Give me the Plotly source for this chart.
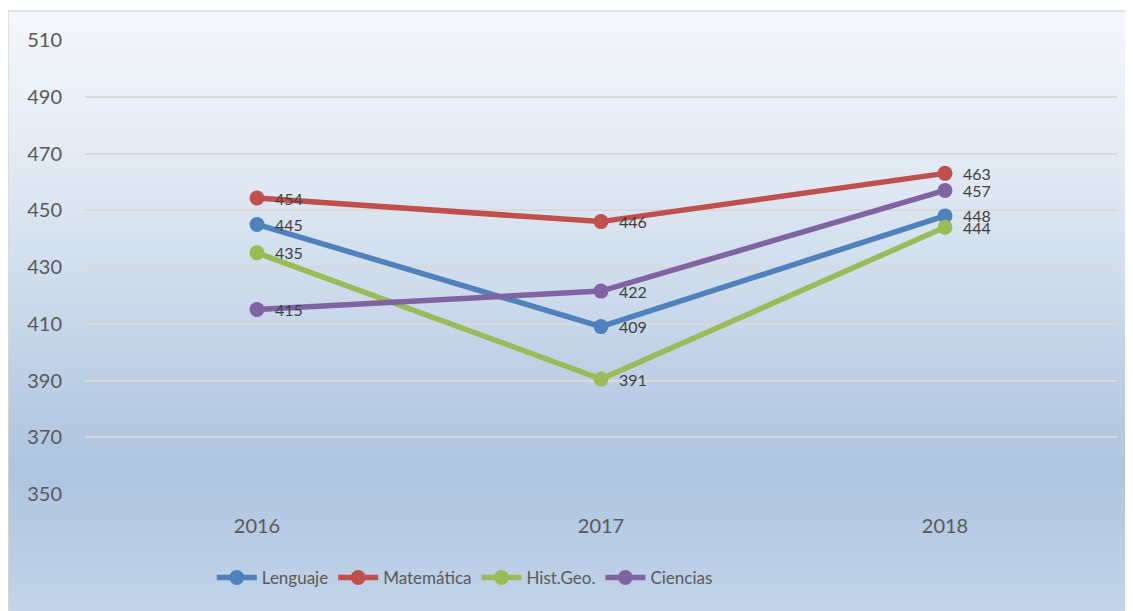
import base64, struct, zlib
import plotly.graph_objects as go

years = ["2016", "2017", "2018"]
lenguaje = [445, 409, 448]
matematica = [454.3, 446, 463]
histgeo = [435, 390.5, 444]
ciencias = [415, 421.5, 457]
series_names = ["Lenguaje", "Matemática", "Hist.Geo.", "Ciencias"]
label_text = {
    "Lenguaje": ["445", "409", "448"],
    "Matemática": ["454", "446", "463"],
    "Hist.Geo.": ["435", "391", "444"],
    "Ciencias": ["415", "422", "457"],
}
colors = ["#4f81bd", "#c0504d", "#9bbb59", "#8064a2"]

FONT = "Lato, 'Open Sans', sans-serif"


def gradient_png(height, stops):
    rows = []
    for i in range(height):
        t = i / (height - 1)
        for j in range(len(stops) - 1):
            t0, c0 = stops[j]
            t1, c1 = stops[j + 1]
            if t0 <= t <= t1:
                f = (t - t0) / (t1 - t0) if t1 > t0 else 0
                c = [round(c0[k] + (c1[k] - c0[k]) * f) for k in range(3)]
                break
        rows.append(b"\x00" + bytes(c))
    raw = b"".join(rows)

    def chunk(tag, data):
        return struct.pack(">I", len(data)) + tag + data + struct.pack(">I", zlib.crc32(tag + data) & 0xFFFFFFFF)

    png = b"\x89PNG\r\n\x1a\n"
    png += chunk(b"IHDR", struct.pack(">IIBBBBB", 1, height, 8, 2, 0, 0, 0))
    png += chunk(b"IDAT", zlib.compress(raw))
    png += chunk(b"IEND", b"")
    return "data:image/png;base64," + base64.b64encode(png).decode()


grad = gradient_png(300, [
    (0.0, (245, 248, 252)),
    (0.30, (222, 231, 242)),
    (0.75, (174, 196, 223)),
    (1.0, (196, 213, 234)),
])

fig = go.Figure()
all_vals = [lenguaje, matematica, histgeo, ciencias]
for name, vals, col in zip(series_names, all_vals, colors):
    fig.add_trace(go.Scatter(
        x=years, y=vals, name=name, mode="lines+markers",
        line=dict(color=col, width=5.5),
        marker=dict(color=col, size=15),
        cliponaxis=False,
    ))
    for i, (yv, t) in enumerate(zip(vals, label_text[name])):
        # category index position for the annotation
        fig.add_annotation(x=i, y=yv, text=t, showarrow=False, xanchor="left",
                           yanchor="middle", xshift=16,
                           font=dict(family=FONT, size=16, color="#404040"))

W, H = 1125, 603
ml, mr, mt, mb = 77, 16, 32, 117
pw, ph = W - ml - mr, H - mt - mb
x0 = (0 - ml) / pw
x1 = (W + 10 - ml) / pw
y1 = (H - 3 - mb) / ph
y0 = (-mb - 10) / ph

fig.add_layout_image(dict(
    source=grad, xref="paper", yref="paper", x=x0, y=y1,
    sizex=x1 - x0, sizey=y1 - y0, xanchor="left", yanchor="top",
    sizing="stretch", layer="below",
))
fig.add_shape(type="rect", xref="paper", yref="paper", x0=x0, x1=x1, y0=y0, y1=y1,
              line=dict(color="#d9d9d9", width=1.5), fillcolor="rgba(0,0,0,0)", layer="below")

fig.update_layout(
    width=W, height=H,
    margin=dict(l=ml, r=mr, t=mt, b=mb),
    paper_bgcolor="white", plot_bgcolor="rgba(0,0,0,0)",
    font=dict(family=FONT, color="#595959"),
    showlegend=True,
    legend=dict(orientation="h", x=0.368, xanchor="center", y=-0.185, yanchor="middle",
                font=dict(family=FONT, size=17, color="#595959"),
                bgcolor="rgba(0,0,0,0)", itemwidth=40),
    xaxis=dict(type="category", range=[-0.5, 2.5], showgrid=False, zeroline=False,
               showline=False, ticks="", tickfont=dict(size=20, color="#595959"),
               ticklabelstandoff=18),
    yaxis=dict(range=[350, 510], tickvals=[350, 370, 390, 410, 430, 450, 470, 490, 510],
               showgrid=True, gridcolor="#d9d9d9", gridwidth=1.5, zeroline=False,
               showline=False, ticks="", tickfont=dict(size=20, color="#595959"),
               ticklabelstandoff=22),
)

fig.write_html("out.html")
